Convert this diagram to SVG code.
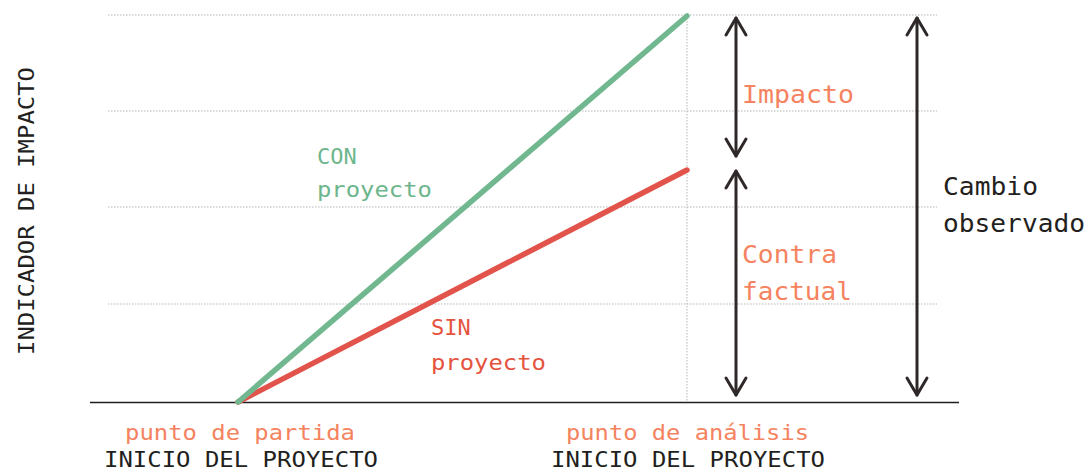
<svg xmlns="http://www.w3.org/2000/svg" width="1089" height="472" viewBox="0 0 1089 472">
<defs>
<style>
text{font-family:"DejaVu Sans Mono","Liberation Mono",monospace;}
.s{font-size:22px;}
.l{font-size:24px;}
.or{fill:#f5835f;}
.dk{fill:#231f20;}
.gr{fill:#6db68c;}
.rd{fill:#e5533e;}
.grid{stroke:#b5b5b5;stroke-width:1;stroke-dasharray:1.5 1.5;fill:none;}
.arr{stroke:#2e2828;stroke-width:3;fill:none;stroke-linecap:round;stroke-linejoin:round;}
</style>
</defs>
<rect width="1089" height="472" fill="#ffffff"/>
<g id="grid">
<line class="grid" x1="108" y1="15" x2="937" y2="15"/>
<line class="grid" x1="108" y1="111" x2="937" y2="111"/>
<line class="grid" x1="108" y1="207" x2="937" y2="207"/>
<line class="grid" x1="108" y1="304" x2="937" y2="304"/>
<line class="grid" x1="687" y1="15" x2="687" y2="402"/>
</g>
<g id="axis">
<line x1="90" y1="402.5" x2="959" y2="402.5" stroke="#231f20" stroke-width="1.5"/>
</g>
<g id="connectors">
<line x1="238" y1="402" x2="687" y2="170" stroke="#e2534b" stroke-width="5.5" stroke-linecap="round"/>
<line x1="238" y1="402" x2="687" y2="16" stroke="#71b890" stroke-width="5.5" stroke-linecap="round"/>
<g class="arr">
<line x1="736" y1="18" x2="736" y2="156"/>
<polyline points="726,35 736,18 746,35"/>
<polyline points="726,139 736,156 746,139"/>
<line x1="736" y1="171" x2="736" y2="395"/>
<polyline points="726,188 736,171 746,188"/>
<polyline points="726,378 736,395 746,378"/>
<line x1="917" y1="18" x2="917" y2="395"/>
<polyline points="907,35 917,18 927,35"/>
<polyline points="907,378 917,395 927,378"/>
</g>
</g>
<g id="y-label">
<text class="s dk" transform="translate(34,355) rotate(-90)" textLength="288" lengthAdjust="spacingAndGlyphs">INDICADOR DE IMPACTO</text>
</g>
<g id="con">
<text class="s gr" x="317" y="164">CON</text>
<text class="s gr" x="317" y="197" textLength="115" lengthAdjust="spacingAndGlyphs">proyecto</text>
</g>
<g id="sin">
<text class="s rd" x="431" y="335">SIN</text>
<text class="s rd" x="431" y="370" textLength="115" lengthAdjust="spacingAndGlyphs">proyecto</text>
</g>
<g id="impacto">
<text class="l or" x="742" y="103" textLength="112" lengthAdjust="spacingAndGlyphs">Impacto</text>
</g>
<g id="contrafactual">
<text class="l or" x="742" y="263" textLength="95" lengthAdjust="spacingAndGlyphs">Contra</text>
<text class="l or" x="742" y="300" textLength="110" lengthAdjust="spacingAndGlyphs">factual</text>
</g>
<g id="cambio">
<text class="l dk" x="943" y="195" textLength="95" lengthAdjust="spacingAndGlyphs">Cambio</text>
<text class="l dk" x="943" y="232" textLength="142" lengthAdjust="spacingAndGlyphs">observado</text>
</g>
<g id="partida">
<text class="s or" x="125" y="440" textLength="230" lengthAdjust="spacingAndGlyphs">punto de partida</text>
<text class="s dk" x="104" y="467" textLength="274" lengthAdjust="spacingAndGlyphs">INICIO DEL PROYECTO</text>
</g>
<g id="analisis">
<text class="s or" x="566" y="440" textLength="243" lengthAdjust="spacingAndGlyphs">punto de análisis</text>
<text class="s dk" x="551" y="467" textLength="274" lengthAdjust="spacingAndGlyphs">INICIO DEL PROYECTO</text>
</g>
</svg>
